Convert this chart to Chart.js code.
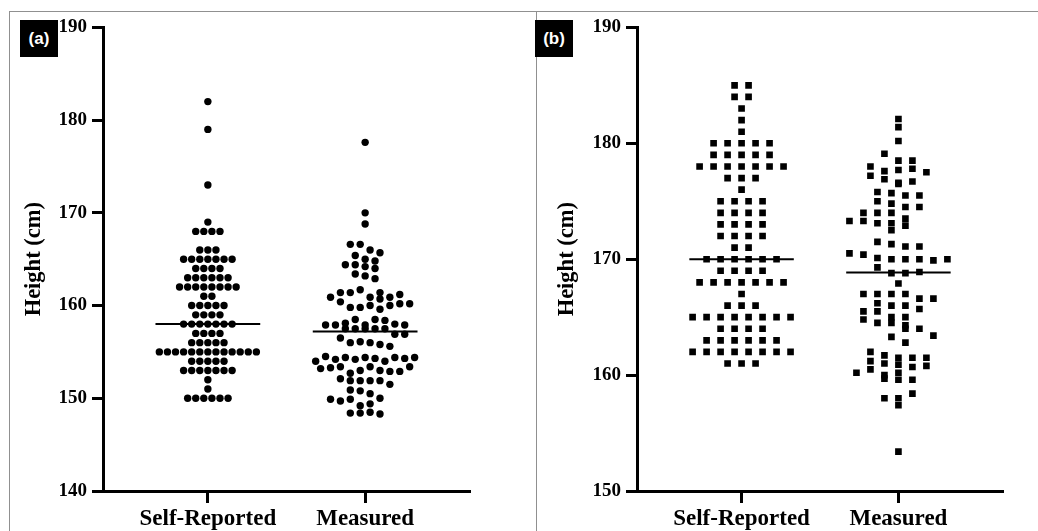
<!DOCTYPE html>
<html lang="en">
<head>
<meta charset="UTF-8">
<title>Self-reported and measured height</title>
<script src="https://cdn.jsdelivr.net/npm/chart.js"></script>
<style>
  body { margin: 0; background: #fff; }
  #page { position: relative; width: 1038px; height: 531px; overflow: hidden; }
  .rule { position: absolute; background: #909090; }
  .tag {
    position: absolute; width: 38px; height: 37px; background: #000; color: #fff;
    font: bold 17px "Liberation Sans", Arial, sans-serif; line-height: 37px; text-align: center;
  }
  canvas { position: absolute; }
</style>
</head>
<body>
<div id="page">
  <div class="rule" style="left:9px; top:11px; width:1029px; height:1px"></div>
  <div class="rule" style="left:9px; top:11px; width:1px; height:520px"></div>
  <div class="rule" style="left:536px; top:11px; width:1px; height:520px"></div>
  <canvas id="chartA" width="527" height="520" style="left:9px; top:11px"></canvas>
  <canvas id="chartB" width="502" height="520" style="left:536px; top:11px"></canvas>
  <div class="tag" style="left:20px; top:20px">(a)</div>
  <div class="tag" style="left:535px; top:20px">(b)</div>
</div>

<script>
  const categories = ['Self-Reported', 'Measured'];

  // panel (a): heights in cm
  const selfA = [
    182, 179, 173, 169,
    168, 168, 168, 168,
    166, 166, 166,
    165, 165, 165, 165, 165, 165, 165,
    164, 164, 164, 164,
    163, 163, 163, 163, 163, 163,
    162, 162, 162, 162, 162, 162, 162, 162,
    161, 161,
    160, 160, 160, 160, 160,
    159, 159, 159, 159,
    158, 158, 158, 158, 158, 158, 158,
    157, 157, 157, 157,
    156, 156, 156, 156, 156,
    155, 155, 155, 155, 155, 155, 155, 155, 155, 155, 155, 155, 155,
    154, 154, 154, 154, 154,
    153, 153, 153, 153, 153, 153, 153,
    152, 151,
    150, 150, 150, 150, 150, 150
  ];
  const measuredA = [
    177.6, 170.0, 168.8, 166.6, 166.6, 166.0, 165.7, 165.4, 165.0, 164.4, 164.8, 164.4, 164.2, 164.0, 163.4, 163.2, 162.9,
    160.9, 161.4, 161.4, 161.7, 160.9, 160.4, 159.8, 159.8, 160.0, 161.4, 160.7, 160.0, 159.6, 160.9, 161.2, 160.2, 160.2,
    157.9, 157.9, 158.1, 158.5, 157.5, 157.5, 157.9, 158.5, 157.5, 157.5, 158.4, 157.5, 158.0, 157.9,
    156.9, 156.5, 156.9, 156.0, 156.1, 156.0, 155.8, 155.6,
    154.0, 154.5, 154.2, 154.4, 154.2, 154.4, 154.3, 154.0, 154.4, 154.3, 154.4,
    153.2, 153.3, 153.4, 152.7, 153.0, 153.4, 153.0, 152.9, 152.9, 153.4, 152.1, 151.9, 151.9, 151.9, 151.9, 151.5,
    150.9, 150.8, 150.5, 149.9, 150.0, 149.7, 149.9, 149.2, 149.4, 148.4, 148.4, 148.5, 148.3
  ];

  // panel (b): heights in cm
  const selfB = [
    185, 185, 184, 184, 183, 182, 181,
    180, 180, 180, 180, 180,
    179, 179, 179, 179, 179,
    178, 178, 178, 178, 178, 178, 178,
    177, 177, 177, 176,
    175, 175, 175, 175,
    174, 174, 174, 174,
    173, 173, 173, 173,
    172, 172, 172, 172,
    171, 171,
    170, 170, 170, 170, 170, 170,
    169, 169, 169, 169,
    168, 168, 168, 168, 168, 168, 168,
    167,
    166, 166, 166,
    165, 165, 165, 165, 165, 165, 165, 165,
    164, 164, 164, 164,
    163, 163, 163, 163, 163, 163,
    162, 162, 162, 162, 162, 162, 162, 162,
    161, 161, 161
  ];
  const measuredB = [
    182.1, 181.4, 180.2, 179.1, 178.5, 178.5, 178.0, 177.6, 177.7, 177.8, 177.5, 177.2, 176.9, 176.6, 176.5, 176.7,
    175.8, 175.7, 175.5, 175.5, 175.0, 174.8, 174.5, 174.5, 174.0, 174.0, 174.0, 173.3, 173.5, 173.3, 173.1, 173.1,
    172.9, 172.5, 171.5, 171.3, 171.1, 171.1, 170.5, 170.4, 170.1, 170.0, 170.0, 170.0, 169.9, 170.0, 169.3, 168.8,
    168.8, 168.9, 167.9, 167.0, 167.0, 167.0, 167.0, 166.6, 166.6, 166.2, 166.0, 166.0, 165.7, 165.5, 165.5, 165.0,
    165.0, 164.8, 164.5, 164.5, 164.3, 164.0, 164.0, 163.3, 163.4, 162.8, 162.0, 161.7, 161.2, 161.0, 160.9, 161.5,
    161.5, 161.5, 160.7, 160.8, 160.2, 160.5, 160.0, 160.2, 159.7, 159.6, 159.6, 158.0, 158.0, 158.4, 157.4, 153.4
  ];

  const yRangeA = [140, 190];
  const yRangeB = [150, 190];

  const median = (arr) => {
    const s = [...arr].sort((a, b) => a - b);
    const m = s.length / 2;
    return s.length % 2 ? s[Math.floor(m)] : (s[m - 1] + s[m]) / 2;
  };

  // dot-plot layout: values inside one band share a row, centred on the category;
  // a row is nudged sideways by half steps if a dot would sit on one already placed
  const swarm = (values, center, band, size, step) => {
    const order = values.map((v, i) => i).sort((a, b) => values[b] - values[a] || a - b);
    const placed = [];
    let i = 0;
    while (i < order.length) {
      const top = values[order[i]];
      const group = [];
      while (i < order.length && top - values[order[i]] < band) group.push(order[i++]);
      group.sort((a, b) => a - b);
      const n = group.length;
      let best = null, bestHits = Infinity;
      for (const shift of [0, 0.5, -0.5, 1, -1, 1.5, -1.5]) {
        const ks = group.map((_, j) => j - (n - 1) / 2 + shift);
        let hits = 0;
        ks.forEach((k, j) => {
          hits += placed.filter(p => Math.abs(p.k - k) < 0.9 && Math.abs(p.v - values[group[j]]) < size).length;
        });
        if (hits < bestHits) { bestHits = hits; best = ks; }
        if (hits === 0) break;
      }
      best.forEach((k, j) => placed.push({ k, v: values[group[j]] }));
    }
    return placed.map(p => ({ x: center + p.k * step, y: p.v }));
  };

  const medianLine = (center, value) => ({
    data: [{ x: center - 0.333, y: value }, { x: center + 0.333, y: value }],
    showLine: true, pointRadius: 0, borderColor: '#000', borderWidth: 2
  });

  const serif = '"Liberation Serif", "Times New Roman", serif';

  const makeChart = (id, series, range, opts) => {
    const datasets = [];
    series.forEach((s, i) => {
      datasets.push({
        data: swarm(s.values, i + 1, s.band, opts.size, s.step),
        pointStyle: opts.marker, pointRadius: opts.radius,
        backgroundColor: '#000', borderWidth: 0
      });
      datasets.push(medianLine(i + 1, median(s.values)));
    });

    return new Chart(document.getElementById(id), {
      type: 'scatter',
      data: { datasets },
      options: {
        responsive: false,
        animation: false,
        layout: { padding: { left: 0, top: 14, right: opts.padRight, bottom: 0 } },
        plugins: { legend: { display: false }, tooltip: { enabled: false } },
        scales: {
          x: {
            type: 'linear', min: 1 / 3, max: 8 / 3,
            afterBuildTicks: (axis) => { axis.ticks = [{ value: 1 }, { value: 2 }]; },
            afterFit: (axis) => { axis.height = 40; },
            ticks: {
              autoSkip: false, padding: 2, color: '#000',
              font: { family: serif, size: 23, weight: 'bold' },
              callback: (v) => categories[v - 1]
            },
            grid: { drawOnChartArea: false, tickLength: 12, tickWidth: 3, tickColor: '#000' },
            border: { display: true, width: 3, color: '#000' }
          },
          y: {
            min: range[0], max: range[1],
            afterFit: (axis) => { axis.width = opts.yWidth; },
            ticks: {
              stepSize: 10, padding: 5, color: '#000',
              font: { family: serif, size: 19, weight: 'bold' }
            },
            grid: { drawOnChartArea: false, tickLength: 11, tickWidth: 3, tickColor: '#000' },
            border: { display: true, width: 3, color: '#000' },
            title: {
              display: true, text: 'Height (cm)', color: '#000',
              padding: { top: opts.titlePad, bottom: 0 },
              font: { family: serif, size: 22.5, weight: 'bold' }
            }
          }
        }
      }
    });
  };

  makeChart('chartA', [
    { values: selfA, band: 0.5, step: 0.0514 },
    { values: measuredA, band: 1.0, step: 0.0629 }
  ], yRangeA, { marker: 'circle', radius: 3.7, size: 0.78, yWidth: 94, padRight: 66, titlePad: 12 });

  makeChart('chartB', [
    { values: selfB, band: 0.5, step: 0.0892 },
    { values: measuredB, band: 0.65, step: 0.0892 }
  ], yRangeB, { marker: 'rect', radius: 4.7, size: 0.58, yWidth: 101, padRight: 35, titlePad: 17.5 });
</script>
</body>
</html>
